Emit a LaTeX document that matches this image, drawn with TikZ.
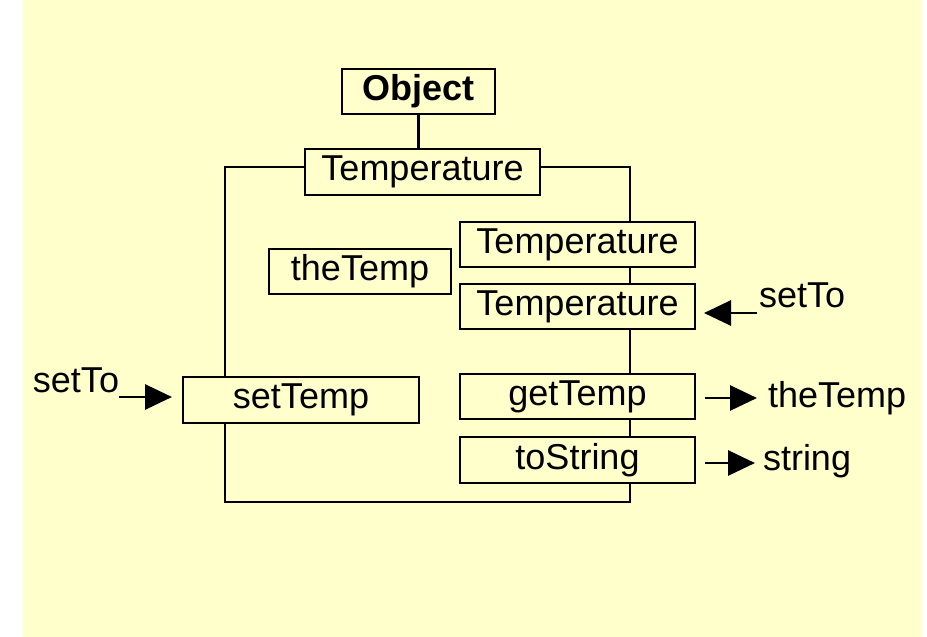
\documentclass[tikz,border=0pt]{standalone}
\usepackage{fontspec}
\setmainfont{Liberation Sans}
\usetikzlibrary{arrows.meta}
\definecolor{paleyellow}{RGB}{255,255,204}

\begin{document}
\begin{tikzpicture}[x=0.5pt,y=-0.5pt,inner sep=0pt,outer sep=0pt,line width=1.45pt,
font=\fontsize{18}{20}\selectfont,
classbox/.style={draw,rectangle,minimum width=117.5pt,minimum height=22.5pt},
flow/.style={-{Triangle[length=13.5pt,width=12.5pt]}}]

\useasboundingbox (0,0) rectangle (927,637);
\fill[paleyellow] (23,0) rectangle (922,637);

\draw (418.5,91.5) node[classbox,minimum width=76.5pt] (obj) {\bfseries Object};
\draw (422.5,172) node[classbox,minimum height=23pt] (temp) {Temperature};
\draw (577.5,244.5) node[classbox] (tA) {Temperature};
\draw (360,271.5) node[classbox,minimum width=91pt] (theT) {theTemp};
\draw (577.5,306.5) node[classbox] (tB) {Temperature};
\draw (301,400) node[classbox,minimum width=118pt,minimum height=23pt] (setT) {setTemp};
\draw (577.5,396.5) node[classbox] (getT) {getTemp};
\draw (577.5,460) node[classbox,minimum height=23pt] (toS) {toString};

\coordinate (lt) at (225,167);
\coordinate (rt) at (630,167);
\coordinate (lb) at (225,502);
\coordinate (rb) at (630,502);

\draw (obj.south) -- (obj.south |- temp.north);
\draw (temp.west |- lt) -- (lt) -- (lt |- setT.north);
\draw (temp.east |- rt) -- (rt) -- (rt |- tA.north);
\draw (rt |- tA.south) -- (rt |- tB.north);
\draw (rt |- tB.south) -- (rt |- getT.north);
\draw (rt |- getT.south) -- (rt |- toS.north);
\draw (lt |- setT.south) -- (lb) -- (rb) -- (rt |- toS.south);

\coordinate (inL) at (119,397);
\coordinate (inR) at (757,313);
\coordinate (outG) at (757,398);
\coordinate (outS) at (755,463);

\draw[flow,shorten >=5.5pt] (inL) -- (inL -| setT.west);
\draw (inL) node[anchor=base east,yshift=2.5pt] (setToL) {setTo};
\draw[flow,shorten >=4.5pt] (inR) -- (inR -| tB.east);
\draw (inR) node[anchor=base west,xshift=1pt,yshift=3pt] (setToR) {setTo};
\draw[flow,shorten <=5pt] (outG -| getT.east) -- (outG);
\draw (outG) node[anchor=base west,xshift=5.5pt,yshift=-4.5pt] (getOut) {theTemp};
\draw[flow,shorten <=5pt] (outS -| toS.east) -- (outS);
\draw (outS) node[anchor=base west,xshift=4pt,yshift=-3.5pt] (strOut) {string};

\end{tikzpicture}
\end{document}
